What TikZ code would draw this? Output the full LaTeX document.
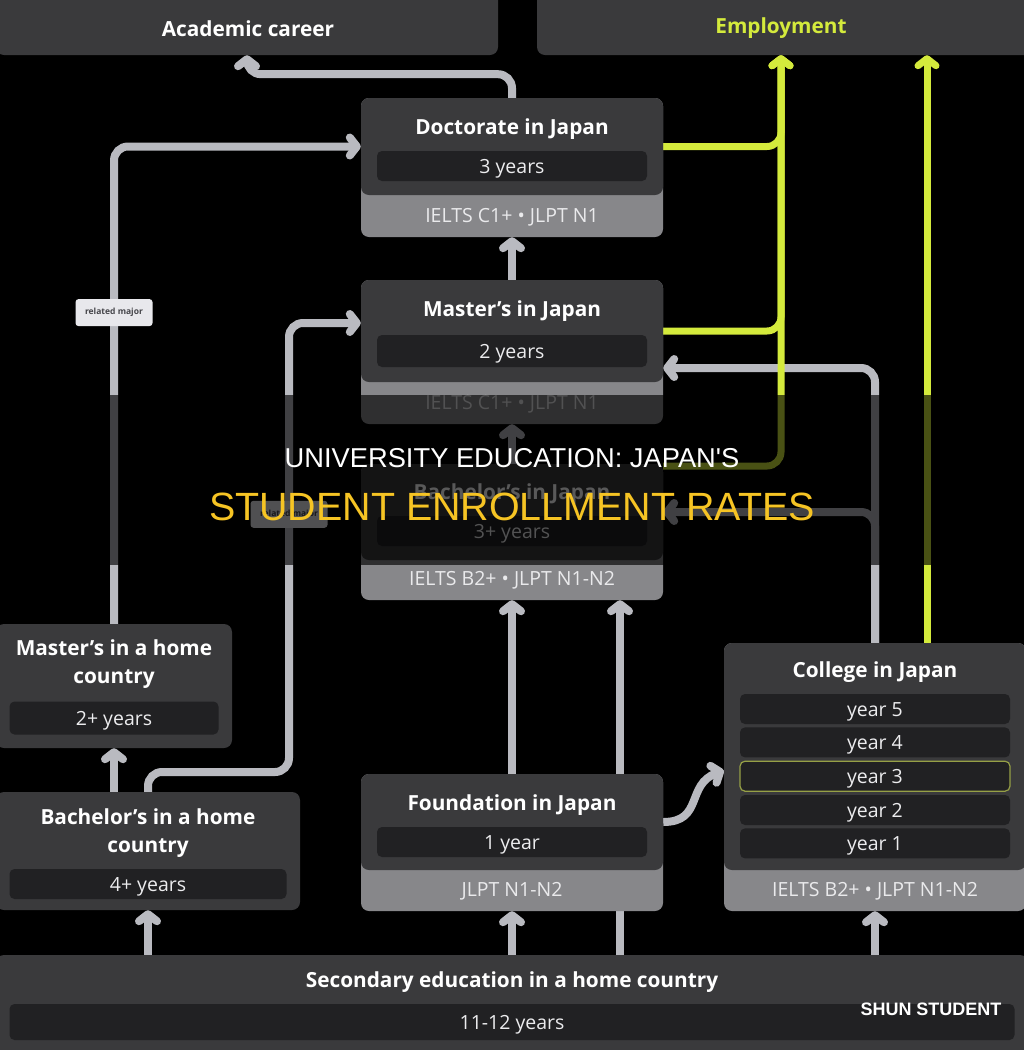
\documentclass[tikz,border=0pt]{standalone}
\usepackage{fontspec}
\setmainfont{Open Sans}
\newfontfamily\bannerfont{Liberation Sans}
\usetikzlibrary{arrows.meta, positioning}
\definecolor{boxgray}{RGB}{58,58,60}
\definecolor{bargray}{RGB}{33,33,35}
\definecolor{reqgray}{RGB}{135,135,138}
\definecolor{linegray}{RGB}{185,186,192}
\definecolor{mylime}{RGB}{212,234,60}
\definecolor{yrtext}{RGB}{236,236,238}
\definecolor{reqtext}{RGB}{234,234,236}
\definecolor{yrthree}{RGB}{150,160,70}
\definecolor{tagfill}{RGB}{232,232,236}
\definecolor{tagtext}{RGB}{70,70,75}
\definecolor{mygold}{RGB}{246,196,36}
\pgfdeclarelayer{back}
\pgfsetlayers{back,main}
\tikzset{
  panel/.style={rectangle, fill=boxgray, rounded corners=8pt, inner sep=0pt},
  reqpanel/.style={rectangle, fill=reqgray, rounded corners=8pt, inner sep=0pt},
  yrbar/.style={rectangle, fill=bargray, rounded corners=5pt, inner sep=0pt,
    minimum height=30pt, text=yrtext, font=\fontsize{19.5}{22}\selectfont,
    text height=14pt, text depth=0pt},
  ttl/.style={text=white, font=\bfseries\fontsize{20.8}{28}\selectfont,
    align=center, inner sep=0pt, yshift=-1.5pt},
  reqtxt/.style={text=reqtext, font=\fontsize{19.5}{22}\selectfont, inner sep=0pt,
    yshift=-1.5pt},
  tag/.style={rectangle, fill=tagfill, text=tagtext, rounded corners=3pt,
    font=\bfseries\fontsize{8.5}{10}\selectfont, minimum width=77pt,
    minimum height=27pt, inner sep=0pt},
  conn/.style={draw=linegray, line width=8pt, rounded corners=14pt,
    -{Straight Barb[length=7pt, width=18pt, round]}},
  limeconn/.style={conn, draw=mylime, line width=7pt}
}
\begin{document}
\begin{tikzpicture}[x=1pt, y=-1pt]
  \useasboundingbox (0,0) rectangle (1024,1050);
  \begin{pgfonlayer}{back}
    \fill[black] (0,0) rectangle (1024,1050);
  \end{pgfonlayer}

  % Outcome boxes on top
  \node[panel, minimum width=502pt, minimum height=63pt] (acad) at (247,23.5) {};
  \node[ttl] (acad-t) at (248,27) {Academic career};
  \node[panel, minimum width=496pt, minimum height=63pt] (emp) at (785,23.5) {};
  \node[ttl, text=mylime] (emp-t) at (781,27) {Employment};
  \coordinate (emp-in) at ([xshift=-4pt]emp.south);

  % Doctorate in Japan
  \node[reqpanel, minimum width=302pt, minimum height=139pt] (doc-bg) at (512,167.5) {};
  \node[panel, minimum width=302pt, minimum height=97pt] (doc) at (512,146.5) {};
  \node[ttl] (doc-t) at (512,128) {Doctorate in Japan};
  \node[yrbar, minimum width=270pt] (doc-y) at (512,166) {3 years};
  \node[reqtxt] (doc-r) at (512,216) {IELTS C1+ • JLPT N1};

  % Master's in Japan
  \node[reqpanel, minimum width=302pt, minimum height=144pt] (mas-bg) at (512,352) {};
  \node[panel, minimum width=302pt, minimum height=102pt] (mas) at (512,331) {};
  \node[ttl] (mas-t) at (512,310) {Master’s in Japan};
  \node[yrbar, minimum width=270pt, minimum height=32pt] (mas-y) at (512,351) {2 years};
  \node[reqtxt] (mas-r) at (512,403) {IELTS C1+ • JLPT N1};

  % Bachelor's in Japan
  \node[reqpanel, minimum width=302pt, minimum height=136pt] (bac-bg) at (512,532) {};
  \node[panel, minimum width=302pt, minimum height=96pt] (bac) at (512,512) {};
  \node[ttl] (bac-t) at (512,493) {Bachelor’s in Japan};
  \node[yrbar, minimum width=270pt] (bac-y) at (512,531) {3+ years};
  \node[reqtxt] (bac-r) at (512,579) {IELTS B2+ • JLPT N1-N2};

  % Foundation in Japan
  \node[reqpanel, minimum width=302pt, minimum height=137pt] (fnd-bg) at (512,842.5) {};
  \node[panel, minimum width=302pt, minimum height=96pt] (fnd) at (512,822) {};
  \node[ttl] (fnd-t) at (512,804) {Foundation in Japan};
  \node[yrbar, minimum width=270pt] (fnd-y) at (512,842) {1 year};
  \node[reqtxt] (fnd-r) at (512,890) {JLPT N1-N2};

  % College in Japan
  \node[reqpanel, minimum width=302pt, minimum height=268pt] (col-bg) at (875,777) {};
  \node[panel, minimum width=302pt, minimum height=227pt] (col) at (875,756.5) {};
  \node[ttl] (col-t) at (875,671) {College in Japan};
  \node[yrbar, minimum width=270pt] (col-y5) at (875,709) {year 5};
  \node[yrbar, minimum width=270pt, below=3pt of col-y5] (col-y4) {year 4};
  \node[yrbar, minimum width=270pt, below=3pt of col-y4, draw=yrthree, line width=1.2pt] (col-y3) {year 3};
  \node[yrbar, minimum width=270pt, below=3pt of col-y3] (col-y2) {year 2};
  \node[yrbar, minimum width=270pt, below=3pt of col-y2] (col-y1) {year 1};
  \node[reqtxt] (col-r) at (875,890) {IELTS B2+ • JLPT N1-N2};

  % Home country
  \node[panel, minimum width=236pt, minimum height=124pt] (mh) at (114,686) {};
  \node[ttl] (mh-t) at (114,663) {Master’s in a home\\country};
  \node[yrbar, minimum width=209pt, minimum height=33pt] (mh-y) at (114,718) {2+ years};
  \node[panel, minimum width=304pt, minimum height=118pt] (bh) at (148,851) {};
  \node[ttl] (bh-t) at (148,832) {Bachelor’s in a home\\country};
  \node[yrbar, minimum width=277pt] (bh-y) at (148,884) {4+ years};
  \node[panel, minimum width=1032pt, minimum height=107pt] (sec) at (512,1008.5) {};
  \node[ttl] (sec-t) at (512,981) {Secondary education in a home country};
  \node[yrbar, minimum width=1005pt, minimum height=36pt] (sec-y) at (512,1022) {11-12 years};

  % ── connectors (behind the boxes) ─────────────────────────────────────
  \begin{pgfonlayer}{back}
    \draw[conn] (doc.north) |- ([yshift=-19pt]acad.south) -- (acad.south);
    \draw[conn] (mas.north) -- (doc-bg.south);
    \draw[conn] (bac.north) -- (mas-bg.south);
    \draw[conn] (fnd.north) -- (bac-bg.south);
    \draw[conn] (sec.north) -- (fnd-bg.south);
    \draw[conn] ([xshift=108pt]sec.north) -- ([xshift=108pt]bac-bg.south);
    \draw[conn] (bh.south |- sec.north) -- (bh.south);
    \draw[conn] (col.south |- sec.north) -- (col-bg.south);
    \draw[conn] (mh.south |- bh.north) -- (mh.south);
    \draw[conn] (mh.north) |- node[tag, pos=0.326] {related major} (doc.west);
    \draw[conn] (bh.north) |- (289,772) |- node[tag, pos=0.287] {related major} ([yshift=8pt]mas.west);
    \draw[conn] (col.north) |- ([yshift=-37pt]mas.east);
    \draw[conn] (col.north) |- (bac.east);
    \draw[conn] (fnd.east) to[out=0, in=200, looseness=1.3] ([yshift=-14pt]col.west);
    % routes to employment
    \draw[limeconn] (doc.east) -| (emp-in);
    \draw[limeconn] (mas.east) -| (emp-in);
    \draw[limeconn] ([yshift=46pt]bac.east) -| (emp-in);
    \coordinate (col-emp) at ([xshift=52pt]col.north);
    \draw[limeconn] (col-emp) -- (col-emp |- emp.south);
  \end{pgfonlayer}

  % ── title banner ──────────────────────────────────────────────────────
  \fill[black, opacity=0.65] (0,395) rectangle (1024,565);
  \node[text=white, font=\bannerfont\fontsize{27.3}{30}\selectfont] (head1) at (512,458) {UNIVERSITY EDUCATION: JAPAN'S};
  \node[text=mygold, font=\bannerfont\fontsize{39.4}{42}\selectfont] (head2) at (512,507) {STUDENT ENROLLMENT RATES};
  \node[text=white, font=\bannerfont\bfseries\fontsize{18}{20}\selectfont] (mark) at (931,1009) {SHUN STUDENT};
\end{tikzpicture}
\end{document}
